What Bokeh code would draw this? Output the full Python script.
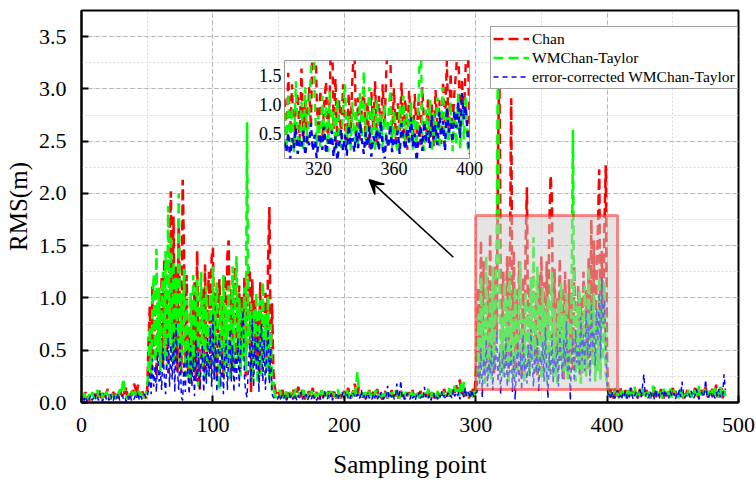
import numpy as np
from bokeh.plotting import figure
from bokeh.layouts import column
from bokeh.models import (Range1d, SingleIntervalTicker, FixedTicker, Legend, LegendItem,
                          Arrow, VeeHead, BoxAnnotation, NumeralTickFormatter)
from bokeh.embed import file_html
from bokeh.resources import INLINE

FONT = "Liberation Serif"

# ---------------- data ----------------
chan_a = [0.08,0.05,0.10,0.03,0.06,0.02,0.04,0.07,0.09,0.05,
          0.11,0.06,0.08,0.12,0.04,0.07,0.10,0.05,0.09,0.13,
          0.06,0.03,0.08,0.11,0.05,0.10,0.07,0.04,0.14,0.09,
          0.06,0.12,0.08,0.15,0.05,0.03,0.09,0.06,0.11,0.18,
          0.14,0.07,0.17,0.10,0.05,0.12,0.08,0.06,0.04,0.10]
chan_b = [0.55,0.92,0.30,1.12,0.45,0.95,0.25,1.05,0.85,0.38,
          1.20,0.35,1.38,0.46,1.02,0.28,1.55,2.02,0.60,1.78,
          0.42,1.30,0.30,1.75,0.55,0.28,2.13,1.42,0.38,1.22,
          0.25,0.72,0.18,0.95,0.35,1.15,0.20,1.45,0.42,0.12,
          0.85,1.10,0.32,1.32,0.28,0.98,1.25,0.30,1.38,1.48,
          0.40,1.05,0.22,0.88,1.18,0.35,1.00,0.25,1.22,0.42,
          1.40,1.55,0.32,1.08,0.28,0.95,1.30,0.38,0.85,1.12,
          0.32,1.02,0.48,1.20,0.25,0.90,1.30,1.25,0.10,1.18,
          0.35,1.00,0.42,0.85,0.20,1.15,0.30,0.92,0.48,1.05,
          0.30,1.35,1.87,0.40,0.95,0.30,0.15,0.08]
chan_c = [0.06,0.10,0.04,0.08,0.12,0.05,0.09,0.03,0.11,0.07,
          0.05,0.09,0.13,0.06,0.04,0.10,0.15,0.08,0.05,0.12,
          0.07,0.03,0.09,0.06,0.11,0.05,0.08,0.14,0.04,0.07,
          0.10,0.06,0.03,0.08,0.12,0.05,0.09,0.07,0.04,0.11,
          0.06,0.09,0.05,0.13,0.07,0.04,0.10,0.06,0.08,0.03,
          0.07,0.11,0.05,0.09,0.14,0.06,0.04,0.08,0.12,0.18,
          0.10,0.06,0.15,0.08,0.05,0.11,0.07,0.04,0.09,0.06,
          0.12,0.05,0.08,0.10,0.04,0.07,0.13,0.06,0.09,0.05,
          0.03,0.08,0.11,0.06,0.04,0.09,0.07,0.12,0.05,0.08,
          0.06,0.10,0.04,0.07,0.11,0.05,0.08,0.03,0.09,0.06,
          0.10,0.05,0.07,0.12,0.04,0.08,0.06,0.09,0.05,0.11,
          0.07,0.04,0.08,0.06,0.10,0.05,0.09,0.07,0.12,0.06,
          0.04,0.08,0.11,0.05,0.07,0.09,0.06,0.13,0.08,0.05,
          0.10,0.06,0.12,0.08,0.15,0.09,0.18,0.11,0.14,0.22,
          0.08,0.12,0.05,0.10,0.07,0.09,0.04,0.11,0.08,0.13,
          0.06,0.25]
chan_d = [0.45,1.10,0.32,1.55,0.50,1.35,0.25,0.95,1.20,0.38,
          1.62,0.45,1.05,0.28,1.30,0.60,2.40,3.20,1.15,0.40,
          1.25,0.35,1.00,1.40,0.32,1.18,2.91,0.55,1.45,0.30,
          1.08,0.42,1.35,0.65,0.25,1.20,0.50,1.50,2.06,0.35,
          1.12,0.38,0.98,1.30,0.40,1.05,0.25,1.22,0.58,1.40,
          0.30,1.15,0.48,1.35,0.62,1.65,2.17,1.95,0.45,1.28,
          0.35,1.02,0.55,1.38,0.38,1.10,0.22,1.25,0.65,0.32,
          1.18,0.48,1.05,0.30,1.30,0.58,0.35,1.12,0.42,1.00,
          0.28,1.25,0.55,1.08,0.32,1.40,0.65,1.75,0.40,1.55,
          0.58,1.20,1.62,2.23,0.50,1.45,0.75,1.70,2.27,0.40]
chan_e = [0.10,0.05,0.13,0.07,0.04,0.09,0.12,0.06,0.08,0.15,
          0.05,0.10,0.07,0.12,0.04,0.09,0.06,0.14,0.08,0.05,
          0.11,0.07,0.03,0.09,0.13,0.06,0.10,0.05,0.08,0.12,
          0.06,0.09,0.04,0.11,0.07,0.15,0.05,0.08,0.10,0.06,
          0.13,0.07,0.04,0.09,0.12,0.06,0.10,0.05,0.08,0.14,
          0.07,0.11,0.05,0.09,0.06,0.13,0.08,0.04,0.10,0.07,
          0.12,0.06,0.09,0.05,0.11,0.08,0.14,0.06,0.10,0.04,
          0.08,0.12,0.06,0.10,0.15,0.07,0.05,0.11,0.08,0.13,
          0.06,0.09,0.17,0.05,0.12,0.08,0.14,0.04,0.10,0.07]

wm_a = [0.06,0.09,0.04,0.07,0.03,0.08,0.05,0.10,0.06,0.04,
        0.08,0.12,0.05,0.07,0.10,0.04,0.09,0.06,0.11,0.05,
        0.08,0.04,0.07,0.10,0.06,0.03,0.09,0.05,0.12,0.08,
        0.15,0.23,0.10,0.06,0.04,0.08,0.05,0.11,0.07,0.13,
        0.09,0.05,0.12,0.08,0.06,0.10,0.04,0.07,0.09,0.15]
wm_b = [0.35,0.72,0.25,0.95,1.22,0.38,1.47,0.45,1.10,0.30,
        0.95,1.25,0.40,1.45,0.32,1.88,0.55,1.60,0.40,1.35,
        0.35,1.20,0.55,2.00,0.32,1.05,0.45,1.28,0.25,0.98,
        0.40,0.18,1.05,0.25,1.22,0.28,0.90,1.18,0.15,0.80,
        1.25,0.32,1.00,0.20,1.12,0.38,0.25,1.05,0.48,1.30,
        0.22,0.95,1.15,0.35,0.12,1.02,0.40,1.22,0.28,0.92,
        0.35,1.12,0.22,0.85,1.30,0.32,1.05,1.40,0.38,1.00,
        0.25,0.92,0.40,1.10,0.30,2.68,0.55,0.78,0.95,0.20,
        0.88,0.35,1.05,0.18,0.80,0.98,0.25,1.15,0.40,0.85,
        0.30,1.02,0.22,0.75,0.10,0.20,0.08,0.05]
wm_c = [0.05,0.08,0.12,0.06,0.09,0.04,0.07,0.11,0.05,0.08,
        0.10,0.06,0.04,0.09,0.13,0.07,0.05,0.10,0.06,0.08,
        0.12,0.05,0.07,0.04,0.09,0.06,0.11,0.08,0.05,0.10,
        0.06,0.09,0.04,0.07,0.12,0.05,0.08,0.06,0.10,0.04,
        0.08,0.11,0.06,0.09,0.05,0.07,0.13,0.06,0.04,0.08,
        0.10,0.05,0.07,0.12,0.06,0.09,0.04,0.08,0.11,0.05,
        0.16,0.29,0.12,0.07,0.05,0.09,0.06,0.10,0.04,0.08,
        0.11,0.06,0.09,0.05,0.07,0.12,0.04,0.08,0.06,0.10,
        0.05,0.09,0.07,0.11,0.04,0.08,0.06,0.10,0.05,0.07,
        0.12,0.06,0.09,0.04,0.08,0.11,0.05,0.07,0.10,0.06,
        0.04,0.09,0.07,0.12,0.05,0.08,0.06,0.10,0.04,0.07,
        0.11,0.05,0.09,0.06,0.08,0.13,0.04,0.07,0.10,0.05,
        0.08,0.06,0.11,0.04,0.09,0.07,0.12,0.05,0.08,0.10,
        0.06,0.14,0.09,0.12,0.07,0.16,0.10,0.08,0.13,0.06,
        0.18,0.11,0.20,0.08,0.12,0.06,0.10,0.07,0.09,0.05,
        0.11,0.08]
wm_d = [0.30,0.85,0.20,1.20,0.35,0.95,0.18,1.40,0.42,0.25,
        1.05,0.22,1.30,0.35,0.90,1.55,3.45,1.10,0.28,0.82,
        0.25,1.15,0.40,0.98,0.18,1.25,0.35,0.88,0.22,1.10,
        0.45,0.25,0.95,1.35,0.30,0.80,0.20,1.05,0.35,0.92,
        0.25,1.20,0.40,1.58,0.28,0.85,1.30,0.32,0.95,0.22,
        1.10,0.38,0.88,0.20,1.02,0.30,0.78,1.25,0.25,0.90,
        0.35,0.18,0.98,0.42,1.15,0.25,0.85,0.30,1.05,0.22,
        0.78,0.28,1.00,2.61,0.40,0.20,0.92,0.32,1.08,0.18,
        0.85,0.30,1.12,0.25,0.75,1.30,0.28,0.95,0.35,1.05,
        0.20,0.82,0.30,1.20,0.22,0.90,0.40,1.15,0.28,0.18]
wm_e = [0.08,0.12,0.05,0.10,0.07,0.14,0.06,0.09,0.04,0.11,
        0.07,0.13,0.06,0.09,0.05,0.12,0.08,0.04,0.10,0.07,
        0.15,0.06,0.09,0.05,0.11,0.08,0.13,0.06,0.04,0.10,
        0.07,0.12,0.05,0.09,0.16,0.06,0.08,0.11,0.05,0.07,
        0.10,0.04,0.13,0.08,0.06,0.11,0.07,0.15,0.05,0.09,
        0.12,0.06,0.08,0.04,0.10,0.14,0.07,0.05,0.11,0.08,
        0.06,0.13,0.09,0.05,0.10,0.07,0.12,0.04,0.08,0.16,
        0.07,0.10,0.05,0.13,0.08,0.06,0.11,0.09,0.04,0.12,
        0.08,0.14,0.06,0.10,0.05,0.15,0.09,0.07,0.12,0.06]

ec_a = [0.04,0.02,0.06,0.01,0.05,0.03,0.07,0.02,0.04,0.08,
        0.03,0.06,0.02,0.09,0.04,0.01,0.05,0.07,0.03,0.06,
        0.02,0.08,0.04,0.01,0.06,0.03,0.05,0.09,0.02,0.04,
        0.07,0.03,0.05,0.01,0.06,0.04,0.08,0.02,0.05,0.03,
        0.07,0.04,0.10,0.02,0.06,0.03,0.05,0.08,0.04,0.06]
ec_b = [0.12,0.30,0.08,0.42,0.15,0.35,0.10,0.48,0.20,0.30,
        0.12,0.52,0.25,0.08,0.45,0.62,0.15,0.55,0.22,0.68,
        0.10,0.75,0.30,0.12,0.58,0.05,0.02,0.40,0.10,0.50,
        0.28,0.08,0.55,0.15,0.42,0.06,0.60,0.20,0.48,0.12,
        0.38,0.55,0.10,0.45,0.18,0.62,0.25,0.72,0.15,0.85,
        0.22,0.58,0.10,0.48,0.65,0.15,0.52,0.08,0.42,0.60,
        0.12,0.45,0.70,0.20,0.55,0.10,0.48,0.22,0.62,0.15,
        0.50,0.72,0.88,0.25,0.10,0.05,0.35,0.58,0.20,0.80,
        0.15,0.62,0.30,0.68,0.10,0.55,0.75,0.20,0.60,0.12,
        0.48,0.70,0.18,0.52,0.08,0.05,0.04,0.02]
ec_c = [0.03,0.06,0.02,0.05,0.08,0.04,0.07,0.02,0.05,0.09,
        0.04,0.06,0.03,0.08,0.05,0.02,0.07,0.04,0.10,0.03,
        0.06,0.04,0.08,0.02,0.05,0.07,0.03,0.09,0.04,0.06,
        0.02,0.05,0.08,0.03,0.06,0.04,0.11,0.05,0.03,0.07,
        0.04,0.09,0.02,0.06,0.05,0.08,0.03,0.07,0.04,0.05,
        0.10,0.03,0.06,0.08,0.04,0.02,0.07,0.05,0.09,0.04,
        0.06,0.08,0.03,0.05,0.12,0.04,0.07,0.02,0.06,0.09,
        0.04,0.06,0.03,0.08,0.05,0.07,0.02,0.06,0.04,0.10,
        0.05,0.03,0.08,0.06,0.16,0.04,0.07,0.05,0.09,0.03,
        0.06,0.18,0.05,0.08,0.21,0.04,0.07,0.03,0.06,0.09,
        0.05,0.03,0.08,0.04,0.06,0.02,0.07,0.05,0.10,0.04,
        0.06,0.03,0.15,0.05,0.08,0.04,0.07,0.02,0.06,0.09,
        0.04,0.06,0.03,0.08,0.05,0.11,0.04,0.07,0.03,0.06,
        0.09,0.05,0.07,0.04,0.12,0.06,0.08,0.05,0.10,0.03,
        0.07,0.09,0.05,0.14,0.06,0.10,0.08,0.04,0.12,0.07,
        0.05,0.09]
ec_d = [0.10,0.35,0.18,0.52,0.05,0.42,0.25,0.60,0.15,0.38,
        0.28,0.55,0.12,0.45,0.30,0.68,0.20,0.48,0.08,0.35,
        0.50,0.22,0.62,0.15,0.40,0.28,0.55,0.10,0.45,0.03,
        0.32,0.58,0.20,0.48,0.12,0.65,0.30,0.42,0.18,0.55,
        0.25,0.70,0.38,0.15,0.52,0.28,0.62,0.10,0.45,0.35,
        0.58,0.20,0.72,0.30,0.04,0.48,0.25,0.65,0.18,0.42,
        0.32,0.55,0.15,0.68,0.40,0.22,0.60,0.35,0.78,0.28,
        0.50,0.02,0.45,0.62,0.20,0.70,0.38,0.55,0.25,0.82,
        0.40,0.65,0.30,0.88,0.45,0.72,0.20,0.95,0.52,0.68,
        0.35,0.90,0.60,1.05,0.42,1.20,0.75,0.98,0.50,0.15]
ec_e = [0.05,0.08,0.03,0.10,0.06,0.04,0.09,0.12,0.05,0.07,
        0.03,0.09,0.06,0.11,0.04,0.08,0.05,0.14,0.07,0.03,
        0.06,0.10,0.04,0.08,0.12,0.05,0.16,0.27,0.06,0.09,
        0.04,0.07,0.11,0.05,0.08,0.03,0.13,0.06,0.09,0.04,
        0.07,0.10,0.05,0.12,0.06,0.08,0.04,0.11,0.07,0.05,
        0.09,0.03,0.08,0.06,0.12,0.05,0.20,0.10,0.04,0.07,
        0.06,0.09,0.05,0.11,0.07,0.04,0.08,0.13,0.06,0.03,
        0.07,0.10,0.05,0.09,0.22,0.06,0.04,0.08,0.11,0.05,
        0.08,0.04,0.10,0.06,0.13,0.05,0.09,0.07,0.27,0.12]

chan = chan_a + chan_b + chan_c + chan_d + chan_e
wmchan = wm_a + wm_b + wm_c + wm_d + wm_e
corrected = ec_a + ec_b + ec_c + ec_d + ec_e
samples = list(range(1, len(chan) + 1))

series_names = ["Chan", "WMChan-Taylor", "error-corrected WMChan-Taylor"]
inset_x_ticks = [320, 360, 400]
inset_y_ticks = [0.5, 1.0, 1.5]

RED, GREEN, BLUE = "#ff0000", "#00ff00", "#0000ff"

# ---------------- main figure ----------------
p = figure(width=756, height=480, x_range=Range1d(0, 500), y_range=Range1d(0, 3.75),
           output_backend="svg", toolbar_location=None,
           min_border_left=81, min_border_right=18, min_border_top=10, min_border_bottom=76)
p.background_fill_color = "white"
p.border_fill_color = "white"
p.outline_line_color = "black"
p.outline_line_width = 2

p.xaxis.ticker = SingleIntervalTicker(interval=100, num_minor_ticks=2)
p.yaxis.ticker = SingleIntervalTicker(interval=0.5, num_minor_ticks=2)
p.yaxis.formatter = NumeralTickFormatter(format="0.0")
for ax in (p.xaxis[0], p.yaxis[0]):
    ax.axis_line_width = 2
    ax.axis_line_color = "black"
    ax.major_tick_in = 7
    ax.major_tick_out = 0
    ax.major_tick_line_width = 2
    ax.minor_tick_line_color = None
    ax.major_label_text_font = FONT
    ax.major_label_text_font_size = "22px"
    ax.major_label_text_color = "black"
    ax.axis_label_text_font = FONT
    ax.axis_label_text_font_size = "25px"
    ax.axis_label_text_font_style = "normal"
    ax.axis_label_text_color = "black"
p.xaxis.axis_label = "Sampling point"
p.yaxis.axis_label = "RMS(m)"
p.xaxis.major_label_standoff = 11
p.yaxis.major_label_standoff = 11
p.xaxis.axis_label_standoff = 16
p.yaxis.axis_label_standoff = 4

for g in (p.xgrid[0], p.ygrid[0]):
    g.grid_line_color = "#b4b4b4"
    g.grid_line_dash = "4 3"
    g.grid_line_width = 1
    g.minor_grid_line_color = "#dcdcdc"
    g.minor_grid_line_dash = "2 2"

r_chan = p.line(samples, chan, line_color=RED, line_width=2.6, line_dash="10 5")
r_wm = p.line(samples, wmchan, line_color=GREEN, line_width=2.6, line_dash="10 5")
r_ec = p.line(samples, corrected, line_color=BLUE, line_width=1.5, line_dash="5 4")

p.add_layout(BoxAnnotation(left=300, right=408, bottom=0.125, top=1.79,
                           fill_color="#cccccc", fill_alpha=0.5,
                           line_color=RED, line_alpha=0.45, line_width=3))

p.add_layout(Arrow(end=VeeHead(size=14, fill_color="black", line_color="black", line_width=1.5),
                   x_start=283, y_start=1.39, x_end=219, y_end=2.13,
                   line_color="black", line_width=1.5))

legend = Legend(items=[LegendItem(label=series_names[0], renderers=[r_chan]),
                       LegendItem(label=series_names[1], renderers=[r_wm]),
                       LegendItem(label=series_names[2], renderers=[r_ec])],
                location=(409, 313))
legend.label_text_font = FONT
legend.label_text_font_size = "15.5px"
legend.label_text_color = "black"
legend.glyph_width = 36
legend.glyph_height = 19
legend.label_height = 19
legend.spacing = 0
legend.padding = 2
legend.margin = 0
legend.label_standoff = 3
legend.border_line_color = "#444444"
legend.border_line_width = 1
legend.background_fill_alpha = 1
p.add_layout(legend)

# ---------------- inset ----------------
# In a column Bokeh aligns the frames' side borders with the main figure (81 / 18 px),
# so the inset is sized with the same borders and shifted accordingly.
inset = figure(width=284, height=124, x_range=Range1d(302, 400), y_range=Range1d(0.07, 1.76),
               output_backend="svg", toolbar_location=None,
               min_border_left=81, min_border_right=18, min_border_top=0, min_border_bottom=26)
inset.background_fill_alpha = 0
inset.border_fill_alpha = 0
inset.outline_line_color = "#999999"
inset.outline_line_width = 1
inset.grid.visible = False
inset.xaxis.ticker = FixedTicker(ticks=inset_x_ticks)
inset.yaxis.ticker = FixedTicker(ticks=inset_y_ticks)
inset.yaxis.formatter = NumeralTickFormatter(format="0.0")
for ax in (inset.xaxis[0], inset.yaxis[0]):
    ax.axis_line_color = None
    ax.major_tick_line_color = None
    ax.minor_tick_line_color = None
    ax.major_tick_in = 0
    ax.major_tick_out = 0
    ax.major_label_text_font = FONT
    ax.major_label_text_font_size = "18px"
    ax.major_label_text_color = "black"
    ax.major_label_standoff = 3

sub = [i for i, s in enumerate(samples) if 302 <= s <= 400]
inset.line([samples[i] for i in sub], [chan[i] for i in sub], line_color=RED, line_width=2.4, line_dash="8 6")
inset.line([samples[i] for i in sub], [wmchan[i] for i in sub], line_color=GREEN, line_width=2.4, line_dash="8 6")
inset.line([samples[i] for i in sub], [corrected[i] for i in sub], line_color=BLUE, line_width=2.4, line_dash="6 5")

inset.styles = {"position": "absolute", "left": "203px", "top": "60px"}

layout = column(p, inset, styles={"position": "relative"})
open("out.html", "w").write(file_html(layout, INLINE))
